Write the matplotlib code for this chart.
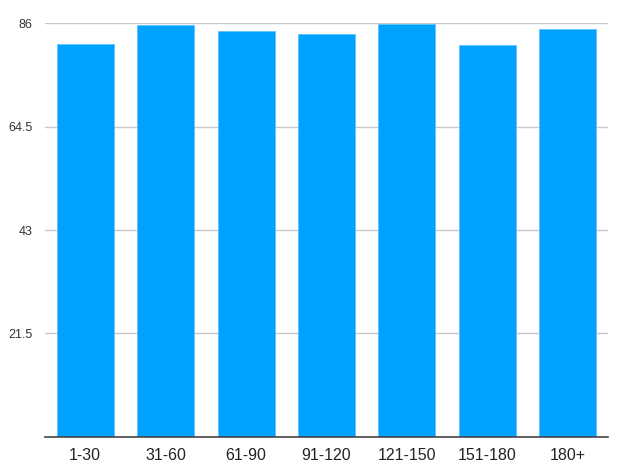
import numpy as np
import matplotlib
matplotlib.use('Agg')
import matplotlib.pyplot as plt

# 数据
categories = ['1-30', '31-60', '61-90', '91-120', '121-150', '151-180', '180+']
values = [81.6, 85.6, 84.3, 83.8, 85.85, 81.4, 84.75]
yticks = [21.5, 43, 64.5, 86]

plt.rcParams['font.family'] = ['Liberation Sans', 'DejaVu Sans']

fig = plt.figure(figsize=(6.4, 4.73), dpi=100)
ax = fig.add_axes([0.0703, 0.0767, 0.8797, 0.874])

x = np.arange(len(categories))
ax.bar(x, values, width=0.71, color='#00A2FF', edgecolor='#5CC4FF', linewidth=0.6, zorder=3)

ax.set_xlim(-0.5, len(categories) - 0.5)
ax.set_ylim(0, 86)
ax.set_yticks(yticks)
ax.set_yticklabels(['21.5', '43', '64.5', '86'])
ax.set_xticks(x)
ax.set_xticklabels(categories)

ax.grid(axis='y', color='#C8C8C8', linewidth=1, zorder=0)
for s in ['top', 'right', 'left']:
    ax.spines[s].set_visible(False)
ax.spines['bottom'].set_color('#444444')
ax.spines['bottom'].set_linewidth(1.2)
ax.spines['bottom'].set_zorder(4)

ax.tick_params(axis='x', length=0, pad=8, labelsize=11.5, colors='#222222')
ax.tick_params(axis='y', length=0, pad=9, labelsize=9, colors='#333333')

plt.savefig('out.png', dpi=100)
